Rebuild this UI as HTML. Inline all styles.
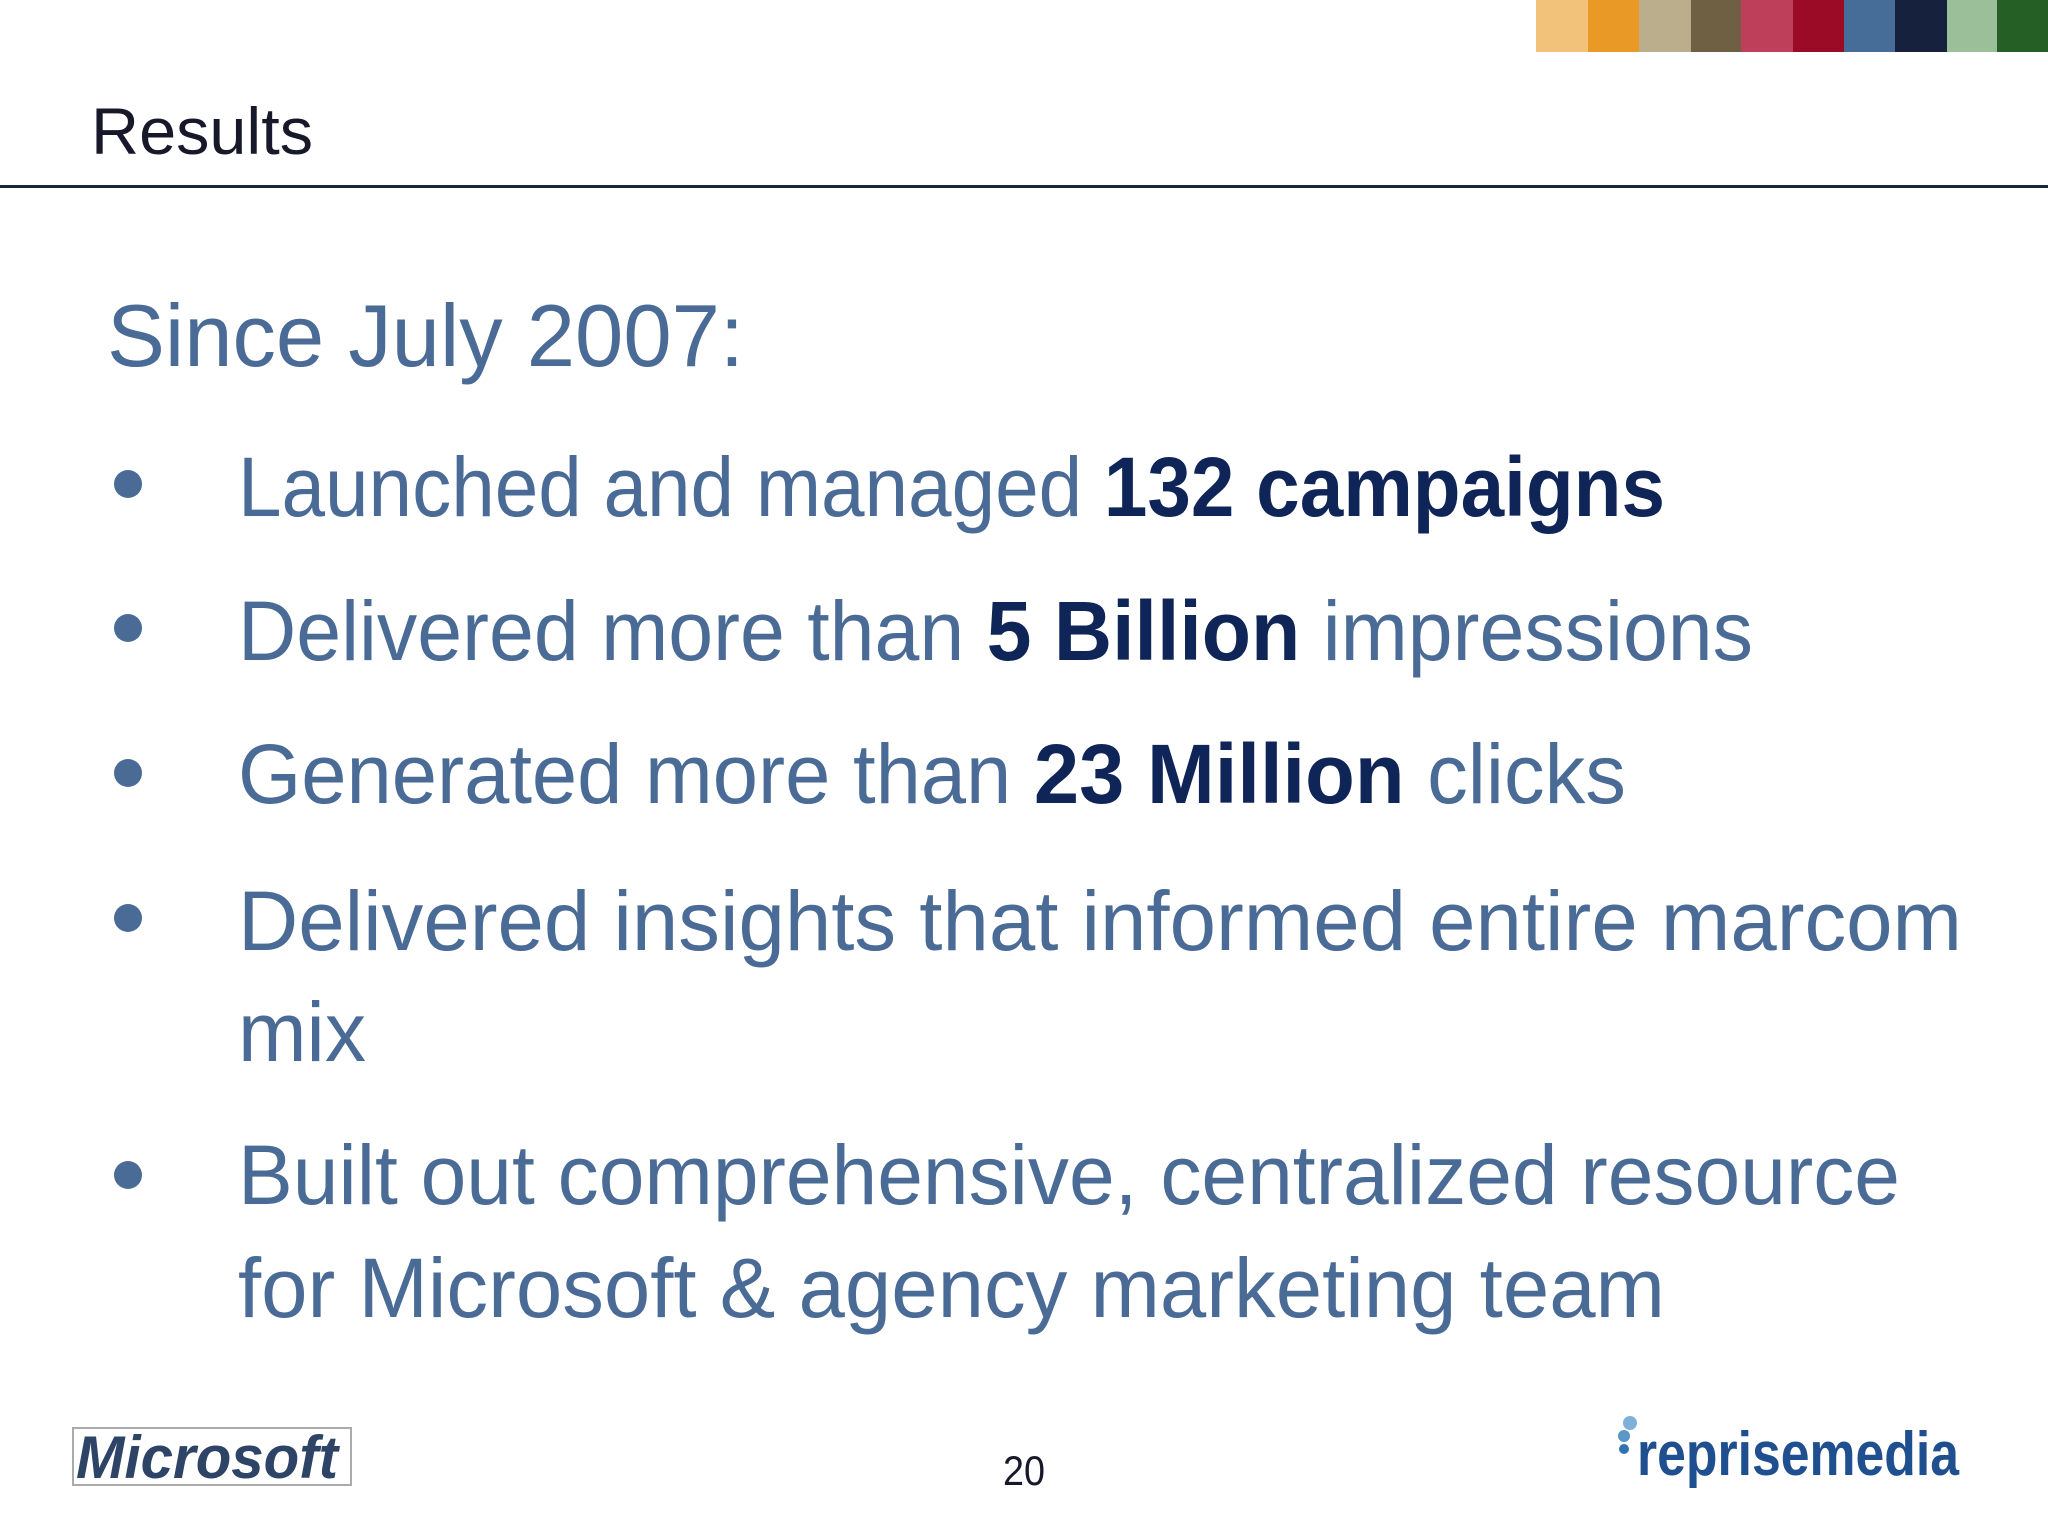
<!DOCTYPE html>
<html><head><meta charset="utf-8"><style>
html,body{margin:0;padding:0;background:#fff;}
svg{display:block;}
text{font-family:"Liberation Sans",sans-serif;}
</style></head><body>
<svg width="2048" height="1536" viewBox="0 0 2048 1536">
<g>
<rect x="1536" y="0" width="52" height="52" fill="#f3c27a"/>
<rect x="1588" y="0" width="51" height="52" fill="#e99a26"/>
<rect x="1639" y="0" width="52" height="52" fill="#bbae8d"/>
<rect x="1691" y="0" width="50" height="52" fill="#6f5f43"/>
<rect x="1741" y="0" width="52" height="52" fill="#bd3f5a"/>
<rect x="1793" y="0" width="51" height="52" fill="#9b0b25"/>
<rect x="1844" y="0" width="51" height="52" fill="#466d97"/>
<rect x="1895" y="0" width="52" height="52" fill="#16213e"/>
<rect x="1947" y="0" width="50" height="52" fill="#9bc099"/>
<rect x="1997" y="0" width="51" height="52" fill="#255f25"/>
</g>
<text x="91" y="154" font-size="66" fill="#17182a" textLength="222" lengthAdjust="spacingAndGlyphs">Results</text>
<rect x="0" y="185" width="2048" height="3" fill="#1a2540"/>
<text x="107" y="366" font-size="88" fill="#4a6b96" textLength="637" lengthAdjust="spacingAndGlyphs">Since July 2007:</text>
<g font-size="84" fill="#4a6b96">
<circle cx="128" cy="484" r="14" fill="#4a6b96"/>
<text x="238" y="516" textLength="1427" lengthAdjust="spacingAndGlyphs">Launched and managed <tspan font-weight="bold" fill="#0f2557">132 campaigns</tspan></text>
<circle cx="128" cy="628" r="14" fill="#4a6b96"/>
<text x="238" y="660" textLength="1515" lengthAdjust="spacingAndGlyphs">Delivered more than <tspan font-weight="bold" fill="#0f2557">5 Billion</tspan> impressions</text>
<circle cx="128" cy="773" r="14" fill="#4a6b96"/>
<text x="238" y="803" textLength="1388" lengthAdjust="spacingAndGlyphs">Generated more than <tspan font-weight="bold" fill="#0f2557">23 Million</tspan> clicks</text>
<circle cx="128" cy="918" r="14" fill="#4a6b96"/>
<text x="238" y="950" textLength="1724" lengthAdjust="spacingAndGlyphs">Delivered insights that informed entire marcom</text>
<text x="238" y="1061" textLength="128" lengthAdjust="spacingAndGlyphs">mix</text>
<circle cx="128" cy="1175" r="14" fill="#4a6b96"/>
<text x="238" y="1204" textLength="1662" lengthAdjust="spacingAndGlyphs">Built out comprehensive, centralized resource</text>
<text x="238" y="1317" textLength="1427" lengthAdjust="spacingAndGlyphs">for Microsoft &amp; agency marketing team</text>
</g>
<g>
<rect x="73" y="1428" width="278" height="57" fill="#fff" stroke="#aaa" stroke-width="2"/>
<text x="76" y="1478" font-size="60" font-weight="bold" font-style="italic" fill="#2e4467" textLength="262" lengthAdjust="spacingAndGlyphs">Microsoft</text>
</g>
<text x="1003" y="1485" font-size="42" fill="#17182a" textLength="42" lengthAdjust="spacingAndGlyphs">20</text>
<g>
<circle cx="1630" cy="1423" r="7" fill="#7fb0d8"/>
<circle cx="1624" cy="1436" r="6" fill="#5a97c8"/>
<circle cx="1624" cy="1449" r="5" fill="#2f74b0"/>
<text x="1637" y="1475" font-size="62" font-weight="bold" fill="#1f4f8f" textLength="322" lengthAdjust="spacingAndGlyphs">reprisemedia</text>
</g>
</svg>
</body></html>
